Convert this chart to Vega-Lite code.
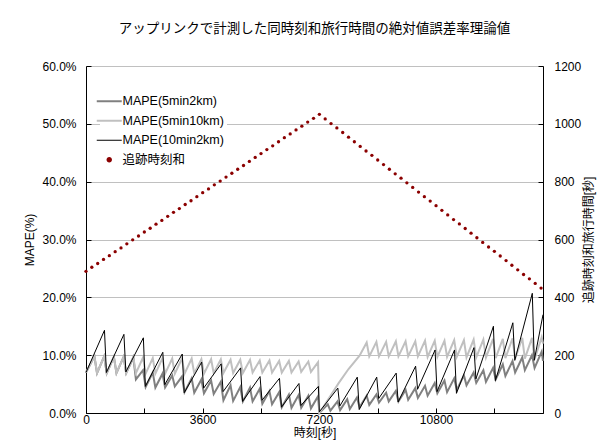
{
  "$schema": "https://vega.github.io/schema/vega-lite/v6.json",
  "width": 457,
  "height": 347,
  "autosize": {"type": "none"},
  "padding": {"left": 86, "top": 66, "right": 69, "bottom": 32},
  "background": "white",
  "title": {"text": "アップリンクで計測した同時刻和旅行時間の絶対値誤差率理論値", "fontSize": 13.5, "fontWeight": "normal", "frame": "group", "anchor": "middle", "offset": 25, "color": "#000000"},
  "config": {
    "font": "Liberation Sans, Noto Sans CJK JP, sans-serif",
    "view": {"stroke": null},
    "axis": {"labelFontSize": 12, "titleFontSize": 12, "titleFontWeight": "normal", "labelColor": "#000000", "titleColor": "#000000", "domainColor": "#000000", "tickColor": "#000000", "tickSize": -5, "domainWidth": 1, "tickWidth": 1},
    "legend": {"labelFontSize": 12.5, "labelColor": "#000000"}
  },
  "datasets": {
    "d52": [
      {"t":0,"v":7.0},{"t":260,"v":9.8},{"t":340,"v":6.9},{"t":560,"v":9.8},{"t":640,"v":6.9},{"t":860,"v":9.7},{"t":940,"v":6.9},{"t":1160,"v":9.7},{"t":1240,"v":6.9},{"t":1460,"v":9.6},
      {"t":1540,"v":5.8},{"t":1760,"v":7.4},{"t":1840,"v":4.5},{"t":2060,"v":7.0},{"t":2140,"v":4.4},{"t":2360,"v":6.8},{"t":2440,"v":4.4},{"t":2660,"v":6.5},{"t":2740,"v":4.6},{"t":2960,"v":6.3},
      {"t":3040,"v":3.6},{"t":3260,"v":6.0},{"t":3340,"v":3.5},{"t":3560,"v":5.8},{"t":3640,"v":3.4},{"t":3860,"v":5.6},{"t":3940,"v":3.3},{"t":4160,"v":5.4},{"t":4240,"v":2.2},{"t":4460,"v":4.8},
      {"t":4540,"v":2.1},{"t":4760,"v":4.5},{"t":4840,"v":2.0},{"t":5060,"v":4.4},{"t":5140,"v":2.0},{"t":5360,"v":4.2},{"t":5440,"v":1.6},{"t":5660,"v":3.8},{"t":5740,"v":1.5},{"t":5960,"v":3.6},
      {"t":6040,"v":1.0},{"t":6260,"v":3.2},{"t":6340,"v":0.9},{"t":6560,"v":3.1},{"t":6640,"v":0.9},{"t":6860,"v":3.0},{"t":6940,"v":0.8},{"t":7160,"v":2.9},{"t":7200,"v":0.0},{"t":7460,"v":1.5},
      {"t":7540,"v":0.4},{"t":7760,"v":2.0},{"t":7840,"v":0.5},{"t":8060,"v":2.4},{"t":8140,"v":0.7},{"t":8360,"v":2.7},{"t":8440,"v":1.0},{"t":8660,"v":3.0},{"t":8740,"v":1.4},{"t":8960,"v":3.2},
      {"t":9040,"v":1.8},{"t":9260,"v":3.5},{"t":9340,"v":2.0},{"t":9560,"v":3.8},{"t":9640,"v":2.0},{"t":9860,"v":4.0},{"t":9940,"v":2.3},{"t":10160,"v":4.3},{"t":10240,"v":2.6},{"t":10460,"v":4.7},
      {"t":10540,"v":3.0},{"t":10760,"v":5.2},{"t":10840,"v":3.4},{"t":11060,"v":5.6},{"t":11140,"v":3.6},{"t":11360,"v":6.0},{"t":11440,"v":4.0},{"t":11660,"v":6.5},{"t":11740,"v":4.8},{"t":11960,"v":7.0},
      {"t":12040,"v":5.2},{"t":12260,"v":7.4},{"t":12340,"v":5.4},{"t":12560,"v":7.8},{"t":12640,"v":5.8},{"t":12860,"v":8.4},{"t":12940,"v":6.4},{"t":13160,"v":9.0},{"t":13240,"v":7.0},{"t":13460,"v":9.6},
      {"t":13540,"v":7.4},{"t":13760,"v":10.0},{"t":13840,"v":7.8},{"t":14060,"v":10.6},{"t":14100,"v":9.0}
    ],
    "d510": [
      {"t":0,"v":7.0},{"t":260,"v":9.8},{"t":340,"v":6.9},{"t":560,"v":9.8},{"t":640,"v":6.9},{"t":860,"v":9.7},{"t":940,"v":6.9},{"t":1160,"v":9.7},{"t":1240,"v":6.9},{"t":1460,"v":9.6},
      {"t":1540,"v":6.9},{"t":1760,"v":9.6},{"t":1840,"v":6.8},{"t":2060,"v":9.5},{"t":2140,"v":6.8},{"t":2360,"v":9.5},{"t":2440,"v":6.8},{"t":2660,"v":9.4},{"t":2740,"v":6.8},{"t":2960,"v":9.4},
      {"t":3040,"v":6.8},{"t":3260,"v":9.4},{"t":3340,"v":6.8},{"t":3560,"v":9.3},{"t":3640,"v":6.8},{"t":3860,"v":9.3},{"t":3940,"v":6.9},{"t":4160,"v":9.3},{"t":4240,"v":6.9},{"t":4460,"v":9.2},
      {"t":4540,"v":6.9},{"t":4760,"v":9.2},{"t":4840,"v":6.9},{"t":5060,"v":9.2},{"t":5140,"v":7.0},{"t":5360,"v":9.1},{"t":5440,"v":7.0},{"t":5660,"v":9.1},{"t":5740,"v":7.0},{"t":5960,"v":9.0},
      {"t":6040,"v":7.0},{"t":6260,"v":9.0},{"t":6340,"v":7.0},{"t":6560,"v":8.9},{"t":6640,"v":7.1},{"t":6860,"v":8.9},{"t":6940,"v":7.1},{"t":7160,"v":8.8},{"t":7200,"v":0.0},{"t":7500,"v":2.6},
      {"t":7800,"v":5.2},{"t":8100,"v":7.6},{"t":8440,"v":9.9},{"t":8660,"v":12.2},{"t":8740,"v":9.8},{"t":8960,"v":12.3},{"t":9040,"v":9.8},{"t":9260,"v":12.3},{"t":9340,"v":9.8},{"t":9560,"v":12.4},
      {"t":9640,"v":9.8},{"t":9860,"v":12.4},{"t":9940,"v":9.8},{"t":10160,"v":12.4},{"t":10240,"v":9.8},{"t":10460,"v":12.5},{"t":10540,"v":9.7},{"t":10760,"v":12.5},{"t":10840,"v":9.7},{"t":11060,"v":12.5},
      {"t":11140,"v":9.7},{"t":11360,"v":12.6},{"t":11440,"v":9.7},{"t":11660,"v":12.6},{"t":11740,"v":9.6},{"t":11960,"v":12.7},{"t":12040,"v":9.6},{"t":12260,"v":12.7},{"t":12340,"v":9.6},{"t":12560,"v":12.8},
      {"t":12640,"v":9.5},{"t":12860,"v":12.8},{"t":12940,"v":9.5},{"t":13160,"v":12.9},{"t":13240,"v":9.4},{"t":13460,"v":13.0},{"t":13540,"v":9.4},{"t":13760,"v":13.0},{"t":13840,"v":9.3},{"t":14060,"v":13.1},
      {"t":14100,"v":12.0}
    ],
    "d102": [
      {"t":0,"v":7.0},{"t":570,"v":14.3},{"t":630,"v":7.0},{"t":1170,"v":13.6},{"t":1230,"v":7.1},{"t":1770,"v":13.0},{"t":1830,"v":4.6},{"t":2370,"v":10.5},{"t":2430,"v":4.9},{"t":2970,"v":10.2},
      {"t":3030,"v":3.5},{"t":3570,"v":8.8},{"t":3630,"v":4.3},{"t":4170,"v":8.5},{"t":4230,"v":3.7},{"t":4770,"v":7.8},{"t":4830,"v":2.0},{"t":5370,"v":6.3},{"t":5430,"v":2.2},{"t":5970,"v":6.0},
      {"t":6030,"v":1.0},{"t":6570,"v":5.1},{"t":6630,"v":1.3},{"t":7170,"v":4.6},{"t":7200,"v":0.2},{"t":7770,"v":4.3},{"t":7830,"v":1.2},{"t":8370,"v":6.2},{"t":8430,"v":0.6},{"t":8970,"v":6.2},
      {"t":9030,"v":2.5},{"t":9570,"v":6.9},{"t":9630,"v":1.9},{"t":10170,"v":8.1},{"t":10230,"v":4.1},{"t":10770,"v":10.9},{"t":10830,"v":3.7},{"t":11370,"v":10.9},{"t":11430,"v":3.4},{"t":11970,"v":11.3},
      {"t":12030,"v":5.9},{"t":12570,"v":15.0},{"t":12630,"v":5.6},{"t":13170,"v":15.6},{"t":13230,"v":9.1},{"t":13770,"v":20.7},{"t":13830,"v":9.1},{"t":14100,"v":17.0}
    ],
    "dots": [
      {"t":0,"v":490},{"t":180,"v":504},{"t":360,"v":517},{"t":540,"v":531},{"t":720,"v":544},{"t":900,"v":558},{"t":1080,"v":571},{"t":1260,"v":585},{"t":1440,"v":599},{"t":1620,"v":612},
      {"t":1800,"v":626},{"t":1980,"v":639},{"t":2160,"v":653},{"t":2340,"v":666},{"t":2520,"v":680},{"t":2700,"v":694},{"t":2880,"v":707},{"t":3060,"v":721},{"t":3240,"v":734},{"t":3420,"v":748},
      {"t":3600,"v":762},{"t":3780,"v":775},{"t":3960,"v":789},{"t":4140,"v":802},{"t":4320,"v":816},{"t":4500,"v":829},{"t":4680,"v":843},{"t":4860,"v":856},{"t":5040,"v":870},{"t":5220,"v":884},
      {"t":5400,"v":897},{"t":5580,"v":911},{"t":5760,"v":924},{"t":5940,"v":938},{"t":6120,"v":952},{"t":6300,"v":965},{"t":6480,"v":979},{"t":6660,"v":992},{"t":6840,"v":1006},{"t":7020,"v":1019},
      {"t":7200,"v":1033},{"t":7380,"v":1017},{"t":7560,"v":1001},{"t":7740,"v":986},{"t":7920,"v":970},{"t":8100,"v":954},{"t":8280,"v":938},{"t":8460,"v":922},{"t":8640,"v":906},{"t":8820,"v":891},
      {"t":9000,"v":875},{"t":9180,"v":859},{"t":9360,"v":843},{"t":9540,"v":827},{"t":9720,"v":812},{"t":9900,"v":796},{"t":10080,"v":780},{"t":10260,"v":764},{"t":10440,"v":748},{"t":10620,"v":733},
      {"t":10800,"v":717},{"t":10980,"v":701},{"t":11160,"v":685},{"t":11340,"v":669},{"t":11520,"v":654},{"t":11700,"v":638},{"t":11880,"v":622},{"t":12060,"v":606},{"t":12240,"v":590},{"t":12420,"v":574},
      {"t":12600,"v":559},{"t":12780,"v":543},{"t":12960,"v":527},{"t":13140,"v":511},{"t":13320,"v":495},{"t":13500,"v":479},{"t":13680,"v":464},{"t":13860,"v":448},{"t":14040,"v":432}
    ]
  },
  "layer": [
    {
      "encoding": {
        "x": {"field": "t", "type": "quantitative", "scale": {"domain": [0, 14100], "nice": false, "zero": false},
              "axis": {"values": [0,900,1800,2700,3600,4500,5400,6300,7200,8100,9000,9900,10800,11700,12600,13500], "labelExpr": "datum.value % 3600 === 0 ? format(datum.value, 'd') : ''", "labelFlush": false, "labelOverlap": false, "title": "時刻[秒]", "grid": false, "labelPadding": 6, "titlePadding": 2}},
        "y": {"field": "v", "type": "quantitative", "scale": {"domain": [0, 60], "nice": false},
              "axis": {"values": [0,10,20,30,40,50,60], "labelExpr": "format(datum.value, '.1f') + '%'", "title": "MAPE(%)", "grid": true, "gridColor": "#c0c0c0", "gridWidth": 1, "labelPadding": 15, "titlePadding": 5}}
      },
      "layer": [
        {"data": {"name": "d52"}, "mark": {"type": "line", "strokeWidth": 2},
         "encoding": {"color": {"datum": "MAPE(5min2km)", "type": "nominal",
            "scale": {"domain": ["MAPE(5min2km)", "MAPE(5min10km)", "MAPE(10min2km)", "追跡時刻和"], "range": ["#808080", "#c0c0c0", "#000000", "#8b0000"]},
            "legend": {"title": null, "orient": "none", "legendX": 14, "legendY": 26, "fillColor": "white", "padding": 3, "rowPadding": 6.5, "symbolSize": 625, "labelOffset": 7,
              "encode": {"symbols": {"update": {
                "shape": {"signal": "datum.value === '追跡時刻和' ? 'circle' : 'stroke'"},
                "size": {"signal": "datum.value === '追跡時刻和' ? 12 : 625"},
                "fill": {"signal": "datum.value === '追跡時刻和' ? '#8b0000' : 'transparent'"},
                "stroke": {"signal": "datum.value === '追跡時刻和' ? 'transparent' : scale('color', datum.value)"},
                "strokeWidth": {"signal": "datum.value === 'MAPE(10min2km)' ? 1 : 2"},
                "opacity": {"value": 1}
              }}}}}}},
        {"data": {"name": "d510"}, "mark": {"type": "line", "strokeWidth": 2},
         "encoding": {"color": {"datum": "MAPE(5min10km)", "type": "nominal"}}},
        {"data": {"name": "d102"}, "mark": {"type": "line", "strokeWidth": 1},
         "encoding": {"color": {"datum": "MAPE(10min2km)", "type": "nominal"}}}
      ]
    },
    {
      "data": {"name": "dots"},
      "mark": {"type": "point", "filled": true, "size": 11, "opacity": 1},
      "encoding": {
        "x": {"field": "t", "type": "quantitative"},
        "y": {"field": "v", "type": "quantitative", "scale": {"domain": [0, 1200], "nice": false},
              "axis": {"orient": "right", "values": [0,200,400,600,800,1000,1200], "format": "d", "title": "追跡時刻和旅行時間[秒]", "titleAngle": 270, "titleBaseline": "top", "grid": false, "labelPadding": 16, "titlePadding": 3}},
        "color": {"datum": "追跡時刻和", "type": "nominal"}
      }
    }
  ],
  "resolve": {"scale": {"y": "independent"}}
}
